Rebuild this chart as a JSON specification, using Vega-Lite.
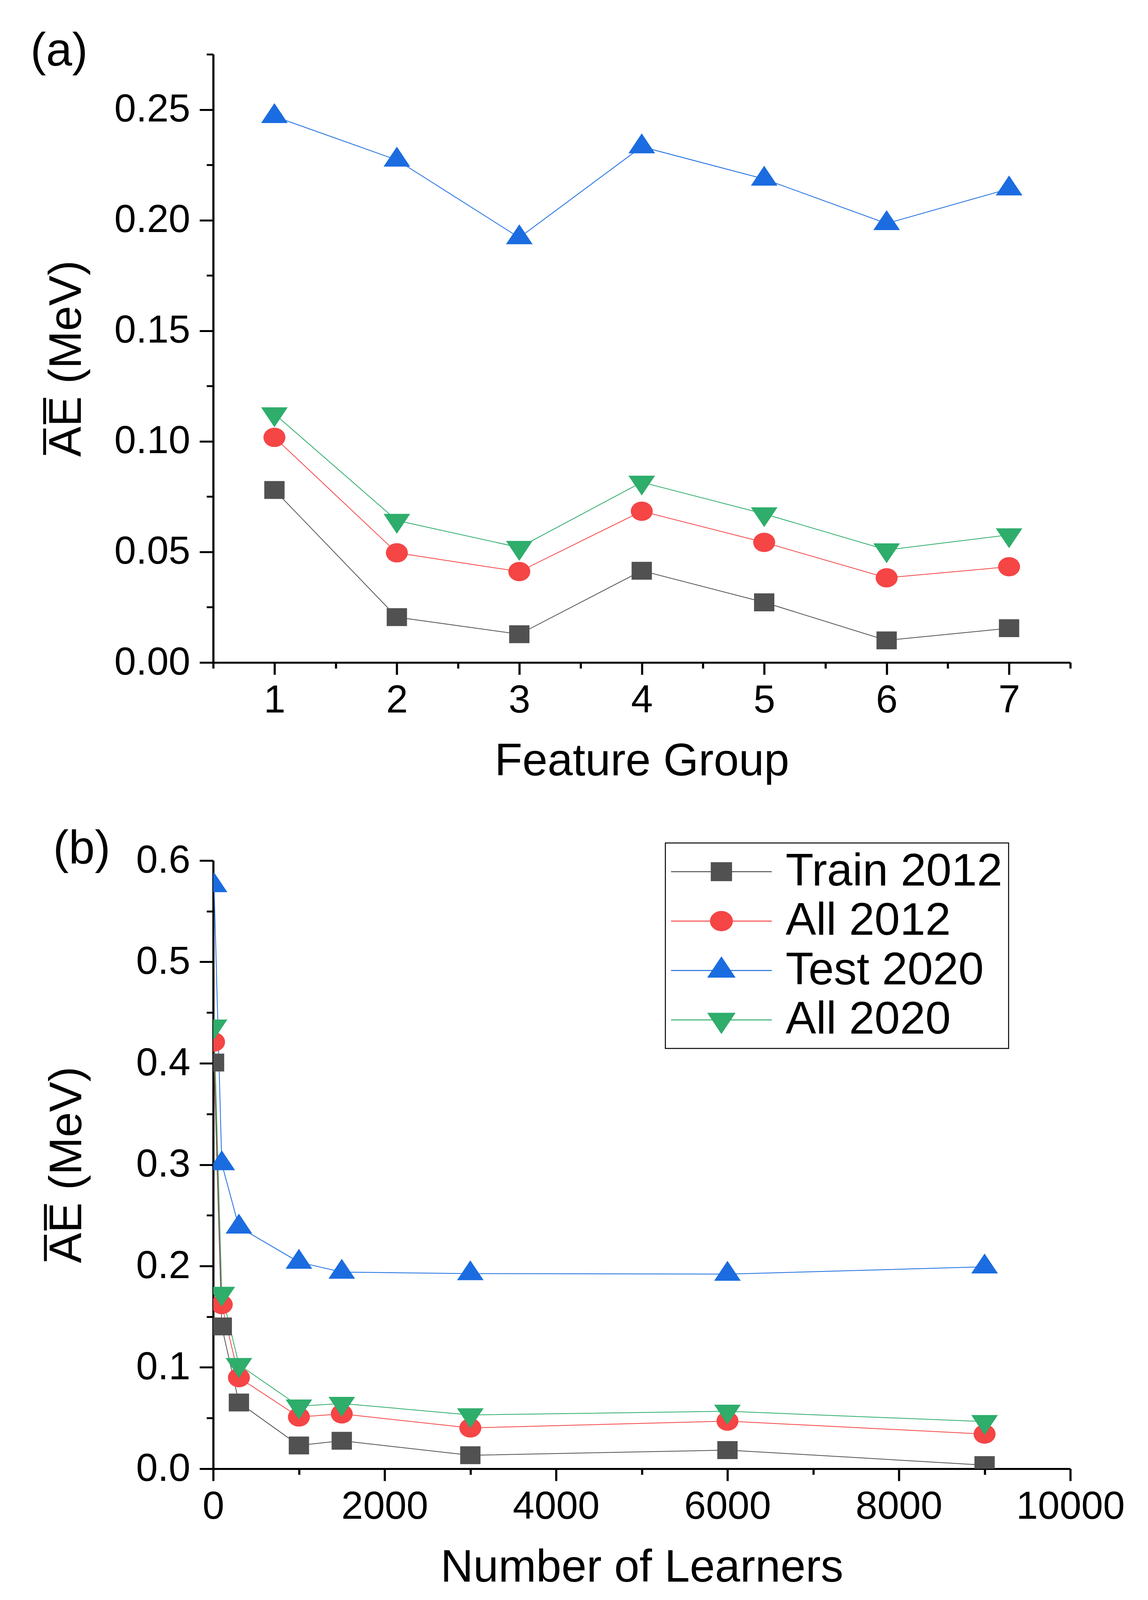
{
  "$schema": "https://vega.github.io/schema/vega-lite/v6.json",
  "background": "white",
  "padding": {"left": 78, "top": 71, "right": 20, "bottom": 20},
  "bounds": "full",
  "spacing": 107,
  "datasets": {
    "a": [
      {"series": "Train 2012", "group": 1, "mae": 0.078},
      {"series": "Train 2012", "group": 2, "mae": 0.0205},
      {"series": "Train 2012", "group": 3, "mae": 0.0128},
      {"series": "Train 2012", "group": 4, "mae": 0.0415},
      {"series": "Train 2012", "group": 5, "mae": 0.0272},
      {"series": "Train 2012", "group": 6, "mae": 0.010},
      {"series": "Train 2012", "group": 7, "mae": 0.0155},
      {"series": "All 2012", "group": 1, "mae": 0.1018},
      {"series": "All 2012", "group": 2, "mae": 0.0496},
      {"series": "All 2012", "group": 3, "mae": 0.0411},
      {"series": "All 2012", "group": 4, "mae": 0.0684},
      {"series": "All 2012", "group": 5, "mae": 0.0543},
      {"series": "All 2012", "group": 6, "mae": 0.0383},
      {"series": "All 2012", "group": 7, "mae": 0.0433},
      {"series": "Test 2020", "group": 1, "mae": 0.2469},
      {"series": "Test 2020", "group": 2, "mae": 0.2272},
      {"series": "Test 2020", "group": 3, "mae": 0.1921},
      {"series": "Test 2020", "group": 4, "mae": 0.2332},
      {"series": "Test 2020", "group": 5, "mae": 0.2186},
      {"series": "Test 2020", "group": 6, "mae": 0.1985},
      {"series": "Test 2020", "group": 7, "mae": 0.2142},
      {"series": "All 2020", "group": 1, "mae": 0.1124},
      {"series": "All 2020", "group": 2, "mae": 0.0642},
      {"series": "All 2020", "group": 3, "mae": 0.052},
      {"series": "All 2020", "group": 4, "mae": 0.0815},
      {"series": "All 2020", "group": 5, "mae": 0.0672},
      {"series": "All 2020", "group": 6, "mae": 0.0509},
      {"series": "All 2020", "group": 7, "mae": 0.0577}
    ],
    "b": [
      {"series": "Train 2012", "learners": 10, "mae": 0.4007},
      {"series": "Train 2012", "learners": 100, "mae": 0.1404},
      {"series": "Train 2012", "learners": 300, "mae": 0.0654},
      {"series": "Train 2012", "learners": 1000, "mae": 0.023},
      {"series": "Train 2012", "learners": 1500, "mae": 0.0276},
      {"series": "Train 2012", "learners": 3000, "mae": 0.0133},
      {"series": "Train 2012", "learners": 6000, "mae": 0.0184},
      {"series": "Train 2012", "learners": 9000, "mae": 0.0036},
      {"series": "All 2012", "learners": 10, "mae": 0.421},
      {"series": "All 2012", "learners": 100, "mae": 0.162},
      {"series": "All 2012", "learners": 300, "mae": 0.0899},
      {"series": "All 2012", "learners": 1000, "mae": 0.0511},
      {"series": "All 2012", "learners": 1500, "mae": 0.0541},
      {"series": "All 2012", "learners": 3000, "mae": 0.0403},
      {"series": "All 2012", "learners": 6000, "mae": 0.047},
      {"series": "All 2012", "learners": 9000, "mae": 0.0342},
      {"series": "Test 2020", "learners": 10, "mae": 0.5753},
      {"series": "Test 2020", "learners": 100, "mae": 0.301},
      {"series": "Test 2020", "learners": 300, "mae": 0.2385},
      {"series": "Test 2020", "learners": 1000, "mae": 0.2038},
      {"series": "Test 2020", "learners": 1500, "mae": 0.194},
      {"series": "Test 2020", "learners": 3000, "mae": 0.1925},
      {"series": "Test 2020", "learners": 6000, "mae": 0.192},
      {"series": "Test 2020", "learners": 9000, "mae": 0.1992},
      {"series": "All 2020", "learners": 10, "mae": 0.4366},
      {"series": "All 2020", "learners": 100, "mae": 0.173},
      {"series": "All 2020", "learners": 300, "mae": 0.1027},
      {"series": "All 2020", "learners": 1000, "mae": 0.0618},
      {"series": "All 2020", "learners": 1500, "mae": 0.0644},
      {"series": "All 2020", "learners": 3000, "mae": 0.0531},
      {"series": "All 2020", "learners": 6000, "mae": 0.0567},
      {"series": "All 2020", "learners": 9000, "mae": 0.0465}
    ]
  },
  "vconcat": [
    {
      "width": 2195,
      "height": 1557,
      "title": {"text": "(a)", "dx": -468, "dy": 56, "offset": 0},
      "data": {"name": "a"},
      "encoding": {
        "color": {
          "field": "series", "type": "nominal", "legend": null,
          "scale": {
            "domain": ["Train 2012", "All 2012", "Test 2020", "All 2020"],
            "range": ["#515151", "#F54545", "#1A6CE0", "#2EAD6B"]
          }
        }
      },
      "layer": [
        {
          "mark": {"type": "line", "strokeWidth": 2, "clip": true},
          "encoding": {
            "x": {
              "field": "group", "type": "quantitative",
              "scale": {"domain": [0.5, 7.5], "nice": false, "zero": false},
              "axis": {"orient": "bottom", "values": [0.5, 1.5, 2.5, 3.5, 4.5, 5.5, 6.5, 7.5], "tickSize": 15, "labels": false, "domain": false, "title": null}
            },
            "y": {
              "field": "mae", "type": "quantitative",
              "scale": {"domain": [0, 0.275], "nice": false},
              "axis": {"orient": "left", "values": [0.025, 0.075, 0.125, 0.175, 0.225, 0.275], "tickSize": 17, "labels": false, "domain": false, "title": null}
            }
          }
        },
        {
          "mark": {"type": "point", "filled": true, "opacity": 1, "size": 2704, "strokeWidth": 0, "clip": true},
          "encoding": {
            "x": {
              "field": "group", "type": "quantitative",
              "scale": {"domain": [0.5, 7.5], "nice": false, "zero": false},
              "axis": {"orient": "bottom", "values": [1, 2, 3, 4, 5, 6, 7], "format": "d", "title": "Feature Group"}
            },
            "y": {
              "field": "mae", "type": "quantitative",
              "scale": {"domain": [0, 0.275], "nice": false},
              "axis": {"orient": "left", "values": [0, 0.05, 0.1, 0.15, 0.2, 0.25], "format": ".2f", "title": "A\u0305E\u0305 (MeV)"}
            },
            "shape": {
              "field": "series", "type": "nominal", "legend": null,
              "scale": {
                "range": [
                  "M-1.08,0C-1.08,-0.52,-0.6,-0.95,0,-0.95C0.6,-0.95,1.08,-0.52,1.08,0C1.08,0.52,0.6,0.95,0,0.95C-0.6,0.95,-1.08,0.52,-1.08,0Z",
                  "M0,1.31L1.31,-0.65L-1.31,-0.65Z",
                  "M0,-1.31L1.31,0.65L-1.31,0.65Z",
                  "M-1,-0.88L1,-0.88L1,0.88L-1,0.88Z"
                ]
              }
            }
          }
        }
      ],
      "resolve": {"axis": {"x": "independent", "y": "independent"}}
    },
    {
      "width": 2195,
      "height": 1557,
      "title": {"text": "(b)", "dx": -410, "dy": 82, "offset": 0},
      "data": {"name": "b"},
      "encoding": {
        "color": {
          "field": "series", "type": "nominal",
          "scale": {
            "domain": ["Train 2012", "All 2012", "Test 2020", "All 2020"],
            "range": ["#515151", "#F54545", "#1A6CE0", "#2EAD6B"]
          },
          "legend": {
            "title": null,
            "orient": "none",
            "legendX": 1158,
            "legendY": -45,
            "symbolSize": 2704,
            "symbolStrokeWidth": 2.5,
            "symbolOffset": 70,
            "labelOffset": 106,
            "rowPadding": 8.5,
            "encode": {
              "symbols": {
                "update": {
                  "shape": {"signal": "datum.value === 'Train 2012' ? 'M-4.96,0L4.96,0M-1,-0.88L1,-0.88L1,0.88L-1,0.88Z' : datum.value === 'All 2012' ? 'M-4.96,0L4.96,0M-1.08,0C-1.08,-0.52,-0.6,-0.95,0,-0.95C0.6,-0.95,1.08,-0.52,1.08,0C1.08,0.52,0.6,0.95,0,0.95C-0.6,0.95,-1.08,0.52,-1.08,0Z' : datum.value === 'Test 2020' ? 'M-4.96,0L4.96,0M0,-1.31L1.31,0.65L-1.31,0.65Z' : 'M-4.96,0L4.96,0M0,1.31L1.31,-0.65L-1.31,-0.65Z'"},
                  "fill": {"signal": "datum.value === 'Train 2012' ? '#515151' : datum.value === 'All 2012' ? '#F54545' : datum.value === 'Test 2020' ? '#1A6CE0' : '#2EAD6B'"},
                  "stroke": {"signal": "datum.value === 'Train 2012' ? '#515151' : datum.value === 'All 2012' ? '#F54545' : datum.value === 'Test 2020' ? '#1A6CE0' : '#2EAD6B'"},
                  "strokeWidth": {"value": 2.5},
                  "opacity": {"value": 1},
                  "size": {"value": 2704}
                }
              }
            }
          }
        }
      },
      "layer": [
        {
          "mark": {"type": "line", "strokeWidth": 2, "clip": true},
          "encoding": {
            "x": {
              "field": "learners", "type": "quantitative",
              "scale": {"domain": [0, 10000], "nice": false},
              "axis": {"orient": "bottom", "values": [1000, 3000, 5000, 7000, 9000], "tickSize": 15, "labels": false, "domain": false, "title": null}
            },
            "y": {
              "field": "mae", "type": "quantitative",
              "scale": {"domain": [0, 0.6], "nice": false},
              "axis": {"orient": "left", "values": [0.05, 0.15, 0.25, 0.35, 0.45, 0.55], "tickSize": 17, "labels": false, "domain": false, "title": null}
            }
          }
        },
        {
          "mark": {"type": "point", "filled": true, "opacity": 1, "size": 2704, "strokeWidth": 0, "clip": true},
          "encoding": {
            "x": {
              "field": "learners", "type": "quantitative",
              "scale": {"domain": [0, 10000], "nice": false},
              "axis": {"orient": "bottom", "values": [0, 2000, 4000, 6000, 8000, 10000], "format": "d", "title": "Number of Learners"}
            },
            "y": {
              "field": "mae", "type": "quantitative",
              "scale": {"domain": [0, 0.6], "nice": false},
              "axis": {"orient": "left", "values": [0, 0.1, 0.2, 0.3, 0.4, 0.5, 0.6], "format": ".1f", "title": "A\u0305E\u0305 (MeV)"}
            },
            "shape": {
              "field": "series", "type": "nominal", "legend": null,
              "scale": {
                "range": [
                  "M-1.08,0C-1.08,-0.52,-0.6,-0.95,0,-0.95C0.6,-0.95,1.08,-0.52,1.08,0C1.08,0.52,0.6,0.95,0,0.95C-0.6,0.95,-1.08,0.52,-1.08,0Z",
                  "M0,1.31L1.31,-0.65L-1.31,-0.65Z",
                  "M0,-1.31L1.31,0.65L-1.31,0.65Z",
                  "M-1,-0.88L1,-0.88L1,0.88L-1,0.88Z"
                ]
              }
            }
          }
        }
      ],
      "resolve": {"axis": {"x": "independent", "y": "independent"}}
    }
  ],
  "resolve": {
    "scale": {"color": "independent", "shape": "independent"},
    "legend": {"color": "independent", "shape": "independent"}
  },
  "config": {
    "view": {"stroke": null},
    "font": "Liberation Sans",
    "axis": {
      "grid": false,
      "zindex": 1,
      "domainColor": "black",
      "tickColor": "black",
      "labelFont": "Liberation Sans",
      "labelFontSize": 100,
      "labelColor": "black",
      "labelLimit": 0,
      "labelFlush": false,
      "labelOverlap": false,
      "labelBound": false,
      "titleFont": "Liberation Sans",
      "titleFontSize": 116,
      "titleFontWeight": "normal",
      "titleColor": "black"
    },
    "axisX": {"tickSize": 31, "domainWidth": 4.8, "tickWidth": 5.5, "labelPadding": 17, "titlePadding": 49},
    "axisY": {"tickSize": 35, "domainWidth": 5.5, "tickWidth": 4.8, "labelPadding": 24, "titlePadding": 116},
    "legend": {
      "labelFont": "Liberation Sans",
      "labelFontSize": 117,
      "labelColor": "black",
      "labelLimit": 0,
      "padding": 15,
      "strokeColor": "black",
      "strokeWidth": 2.5,
      "fillColor": "white"
    },
    "title": {
      "font": "Liberation Sans",
      "fontSize": 120,
      "fontWeight": "normal",
      "color": "black",
      "anchor": "start",
      "frame": "group"
    }
  }
}
